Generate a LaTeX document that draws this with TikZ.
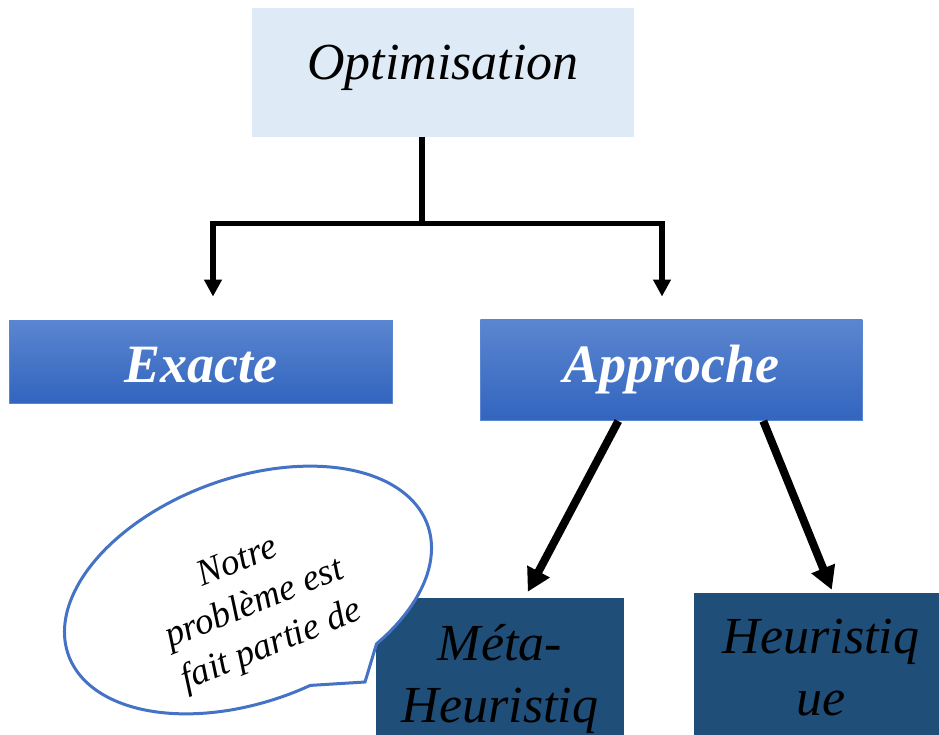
\documentclass[tikz,border=0pt]{standalone}
\usepackage{fontspec}
\setmainfont{Liberation Serif}
\usetikzlibrary{arrows.meta}
\definecolor{optfill}{HTML}{DEEAF6}
\definecolor{blueTop}{HTML}{5B85CF}
\definecolor{blueBot}{HTML}{3265BF}
\definecolor{blueEdge}{HTML}{5A86D2}
\definecolor{navy}{HTML}{1F4E79}
\definecolor{bubbleEdge}{HTML}{4472C4}

\begin{document}
\begin{tikzpicture}[x=1pt,y=-1pt,
  topbox/.style={rectangle, fill=optfill, inner sep=0pt,
    font=\fontsize{52}{60}\selectfont\itshape},
  methodbox/.style={rectangle, top color=blueTop, bottom color=blueBot,
    draw=blueEdge, line width=0.8pt, inner sep=0pt, text=white,
    font=\fontsize{54}{62}\selectfont\bfseries\itshape},
  classbox/.style={rectangle, fill=navy, inner sep=0pt, align=center,
    font=\fontsize{52}{62}\selectfont\itshape},
  tree/.style={line width=5.5pt},
  treearrow/.style={tree, -{Triangle[width=17pt,length=17pt]}},
  diagarrow/.style={line width=8pt, -{Triangle[width=24pt,length=23pt]}},
  bubble/.style={draw=bubbleEdge, line width=3pt, fill=white},
  bubbletext/.style={rotate=22, align=center,
    font=\fontsize{37}{45}\selectfont\itshape},
]
\useasboundingbox (0,0) rectangle (939,735);
\clip (0,0) rectangle (939,735);
\fill[white] (0,0) rectangle (939,735);

% boxes
\node[topbox, minimum width=382pt, minimum height=128.7pt,
      text height=36pt, text depth=20.6pt] (opt) at (442.8,72.3) {Optimisation};
\node[methodbox, minimum width=383pt, minimum height=83pt,
      text height=45pt, text depth=4pt] (exa) at (201,361.5) {Exacte};
\node[methodbox, minimum width=382pt, minimum height=100.7pt,
      text height=38pt, text depth=14.6pt] (app) at (671.3,370.3) {Approche};
\node[classbox, minimum width=248pt, minimum height=162pt,
      text height=90pt, text depth=4pt] (meta) at (500,679) {Méta-\\Heuristiq};
\node[classbox, minimum width=254pt, minimum height=167pt,
      text height=80pt, text depth=3pt] (heu) at (821,676.5) {Heuristiq\\ue};

% tree connectors below the top box
\coordinate (stem) at ([xshift=-21pt]opt.south);
\coordinate (fork) at ([yshift=-86.8pt]stem);
\coordinate (exaTip) at ([xshift=12pt,yshift=23pt]exa.north);
\coordinate (appTip) at ([xshift=-9.3pt,yshift=23pt]app.north);
\draw[tree] (stem) -- (fork);
\draw[treearrow] (fork) -| (exaTip);
\draw[treearrow] (fork) -| (appTip);

% diagonal arrows from the approach box
\draw[diagarrow] ([xshift=-53pt]app.south) -- ([xshift=152pt,yshift=6pt]meta.north west);
\draw[diagarrow] ([xshift=92pt]app.south) -- ([xshift=138pt,yshift=3pt]heu.north west);

% speech bubble
\draw[bubble] plot[smooth, domain=82.2:417.6, samples=150, variable=\t]
  ({248+191*cos(\t)*0.9397+112*sin(\t)*0.342},
   {590-191*cos(\t)*0.342+112*sin(\t)*0.9397})
  -- (365,682) -- cycle;
\node[bubbletext] (note) at (255,605) {Notre\\problème est\\fait partie de};
\end{tikzpicture}
\end{document}
